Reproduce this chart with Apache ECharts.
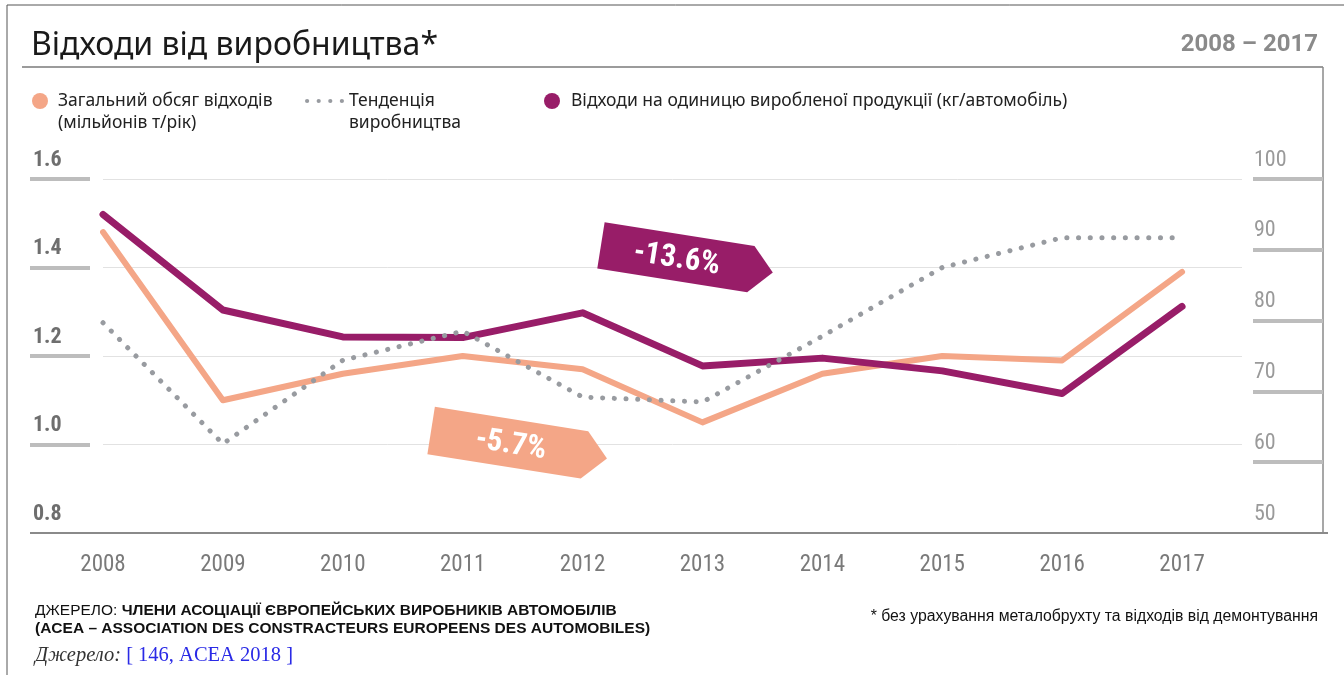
<!DOCTYPE html>
<html><head><meta charset="utf-8">
<script src="https://cdn.jsdelivr.net/npm/echarts@6/dist/echarts.min.js"></script>
<style>html,body{margin:0;padding:0;background:#fff}#c{width:1344px;height:675px}</style>
</head><body><div id="c"></div>
<script>
// ---- data ----
const years = [2008, 2009, 2010, 2011, 2012, 2013, 2014, 2015, 2016, 2017];
const totalWaste = [1.48, 1.10, 1.16, 1.20, 1.17, 1.05, 1.16, 1.20, 1.19, 1.39];      // million t / year (left axis)
const productionTrend = [79.7, 62.6, 74.4, 78.5, 69.2, 68.5, 77.8, 87.5, 91.7, 91.7];  // right axis
const wastePerCar = [95.0, 81.5, 77.7, 77.6, 81.1, 73.6, 74.7, 72.9, 69.7, 82.0];      // kg / car (right axis)
const leftTickValues = [1.0, 1.2, 1.4, 1.6];
const leftLabelValues = [0.8, 1.0, 1.2, 1.4, 1.6];
const rightTickValues = [60, 70, 80, 90, 100];
const rightLabelValues = [50, 60, 70, 80, 90, 100];
const totalChangeLabel = '-5.7%';
const perCarChangeLabel = '-13.6%';

const seriesNames = [
  'Загальний обсяг відходів (мільйонів т/рік)',
  'Тенденція виробництва',
  'Відходи на одиницю виробленої продукції (кг/автомобіль)'
];

const C_ORANGE = '#f4a687';
const C_PURPLE = '#981d68';
const C_GREY = '#989ba0';
const narrow = "'Liberation Sans Narrow','Roboto Condensed','DejaVu Sans Condensed','Arial Narrow',sans-serif";
const sans = "'Noto Sans','DejaVu Sans',sans-serif";
const arial = "'Liberation Sans',Arial,sans-serif";
const serif = "'Liberation Serif','Times New Roman',serif";

const chart = echarts.init(document.getElementById('c'), null, {renderer: 'canvas'});

const dotsIcon = 'path://M0,2a2,2 0 1,0 4,0a2,2 0 1,0 -4,0Z M11,2a2,2 0 1,0 4,0a2,2 0 1,0 -4,0Z M22,2a2,2 0 1,0 4,0a2,2 0 1,0 -4,0Z M33,2a2,2 0 1,0 4,0a2,2 0 1,0 -4,0Z';
const arrowBox = 'path://M0,0 L150,0 L172,23 L150,46 L0,46 Z';

const legendText = {fontFamily: sans, fontSize: 17.5, color: '#222', lineHeight: 22,
                    rich: {t: {padding: [0, 0, 0, 5], fontFamily: sans, fontSize: 17.5, color: '#222', lineHeight: 22},
                           u: {padding: [0, 0, 0, 6], fontFamily: sans, fontSize: 17.5, color: '#222', lineHeight: 22}}};
const tagLines = (lines, tag) => lines.map(s => (s ? '{' + tag + '|' + s + '}' : '')).join('\n');

chart.setOption({
  animation: false,
  backgroundColor: '#fff',
  title: [
    {text: 'Відходи від виробництва*', left: 26, top: 25,
     textStyle: {fontFamily: sans, fontSize: 32, fontWeight: 'normal', color: '#1a1a1a'}},
    {text: '2008 – 2017', right: 21, top: 28,
     textStyle: {fontFamily: "Roboto,'Noto Sans',sans-serif", fontSize: 24, fontWeight: 'bold', color: '#8a8a8a'}}
  ],
  legend: [
    {left: 32, top: 68, padding: 0, itemWidth: 16, itemHeight: 16, itemGap: 0,
     selectedMode: false,
     formatter: n => tagLines([''].concat(n.replace(' (', '\n(').split('\n')), 't'),
     data: [{name: seriesNames[0], icon: 'circle', textStyle: legendText}]},
    {left: 305, top: 68, padding: 0, itemWidth: 39, itemHeight: 5, itemGap: 0,
     selectedMode: false,
     formatter: n => '\n' + n.replace(' ', '\n'),
     data: [{name: seriesNames[1], icon: dotsIcon, textStyle: legendText}]},
    {left: 544, top: 90, padding: 0, itemWidth: 16, itemHeight: 16, itemGap: 0,
     selectedMode: false,
     formatter: n => '{u|' + n + '}',
     data: [{name: seriesNames[2], icon: 'circle', textStyle: legendText}]}
  ],
  grid: {left: 103, right: 102, top: 179, bottom: 142, containLabel: false},
  xAxis: {
    type: 'value', min: 2008, max: 2017.5, interval: 1,
    axisLine: {show: false}, axisTick: {show: false}, splitLine: {show: false},
    axisLabel: {
      margin: 21, color: '#7a7a7a', fontFamily: narrow, fontSize: 23,
      formatter: v => (Number.isInteger(v) ? String(v) : '')
    }
  },
  yAxis: [
    {
      type: 'value', position: 'left', min: 0.8, max: 1.6, interval: 0.2, offset: 13,
      axisLine: {show: false},
      axisTick: {show: true, inside: false, length: 60, customValues: leftTickValues,
                 lineStyle: {color: '#bdbdbd', width: 4}},
      axisLabel: {customValues: leftLabelValues, align: 'left', verticalAlign: 'bottom', margin: 57,
                  padding: [0, 0, 8, 0], color: '#6e6e6e', fontFamily: narrow, fontSize: 22, fontWeight: 'bold',
                  formatter: v => v.toFixed(1)},
      splitLine: {show: true, lineStyle: {color: '#e2e2e2', width: 1}}
    },
    {
      type: 'value', position: 'right', min: 50, max: 100, interval: 10, offset: 81,
      axisLine: {show: false},
      axisTick: {show: true, inside: true, length: 70, customValues: rightTickValues,
                 lineStyle: {color: '#bdbdbd', width: 4}},
      axisLabel: {customValues: rightLabelValues, inside: true, align: 'left', verticalAlign: 'bottom', margin: 69,
                  padding: [0, 0, 8, 0], color: '#9a9a9a', fontFamily: narrow, fontSize: 22},
      splitLine: {show: false}
    }
  ],
  series: [
    {
      name: seriesNames[0], type: 'line', yAxisIndex: 0, symbol: 'none', z: 2,
      data: years.map((y, i) => [y, totalWaste[i]]),
      itemStyle: {color: C_ORANGE},
      lineStyle: {color: C_ORANGE, width: 6, cap: 'round', join: 'round'},
      markPoint: {
        symbol: arrowBox, symbolSize: [178, 48], symbolRotate: -9, silent: true,
        itemStyle: {color: C_ORANGE},
        label: {show: true, position: 'inside', offset: [-8, 2], rotate: -9, color: '#fff',
                fontFamily: narrow, fontSize: 31, fontWeight: 'bold', formatter: '{b}'},
        data: [{name: totalChangeLabel, coord: [2011.47, 1.0]}]
      }
    },
    {
      name: seriesNames[2], type: 'line', yAxisIndex: 1, symbol: 'none', z: 3,
      data: years.map((y, i) => [y, wastePerCar[i]]),
      itemStyle: {color: C_PURPLE},
      lineStyle: {color: C_PURPLE, width: 7, cap: 'round', join: 'round'},
      markPoint: {
        symbol: arrowBox, symbolSize: [174, 47], symbolRotate: -9, silent: true,
        itemStyle: {color: C_PURPLE},
        label: {show: true, position: 'inside', offset: [-10, 2], rotate: -9, color: '#fff',
                fontFamily: narrow, fontSize: 31, fontWeight: 'bold', formatter: '{b}'},
        data: [{name: perCarChangeLabel, coord: [2012.87, 88.7]}]
      }
    },
    {
      name: seriesNames[1], type: 'line', yAxisIndex: 1, symbol: 'none', z: 4,
      data: years.map((y, i) => [y, productionTrend[i]]),
      itemStyle: {color: C_GREY},
      lineStyle: {color: C_GREY, width: 5, type: [0.1, 11.6], cap: 'round', join: 'round'}
    }
  ],
  graphic: [
    {type: 'line', shape: {x1: 7, y1: 5, x2: 1344, y2: 5}, style: {stroke: '#555', lineWidth: 1}, silent: true},
    {type: 'line', shape: {x1: 7, y1: 5, x2: 7, y2: 675}, style: {stroke: '#555', lineWidth: 1}, silent: true},
    {type: 'line', shape: {x1: 22, y1: 67, x2: 1323, y2: 67}, style: {stroke: '#7a7a7a', lineWidth: 1.5}, silent: true},
    {type: 'line', shape: {x1: 1323, y1: 67, x2: 1323, y2: 533}, style: {stroke: '#8a8a8a', lineWidth: 1.5}, silent: true},
    {type: 'line', shape: {x1: 30, y1: 533, x2: 1328, y2: 533}, style: {stroke: '#8a8a8a', lineWidth: 2}, silent: true},
    {type: 'text', left: 35, top: 603, silent: true,
     style: {text: '{r|ДЖЕРЕЛО: }{b|ЧЛЕНИ АСОЦІАЦІЇ ЄВРОПЕЙСЬКИХ ВИРОБНИКІВ АВТОМОБІЛІВ}\n{b|(ACEA – ASSOCIATION DES CONSTRACTEURS EUROPEENS DES AUTOMOBILES)}',
             rich: {r: {fontFamily: arial, fontSize: 15.5, fill: '#111', lineHeight: 18},
                    b: {fontFamily: arial, fontSize: 15.5, fontWeight: 'bold', fill: '#111', lineHeight: 18}}}},
    {type: 'text', left: 35, top: 645, silent: true,
     style: {text: '{i|Джерело: }{l|[ 146, ACEA 2018 ]}',
             rich: {i: {fontFamily: serif, fontSize: 20.5, fontStyle: 'italic', fill: '#333'},
                    l: {fontFamily: serif, fontSize: 20.5, fill: '#2a2ae6'}}}},
    {type: 'text', right: 26, top: 609, silent: true,
     style: {text: '* без урахування металобрухту та відходів від демонтування',
             fontFamily: arial, fontSize: 15.8, fill: '#111'}}
  ]
});
</script>
</body></html>
